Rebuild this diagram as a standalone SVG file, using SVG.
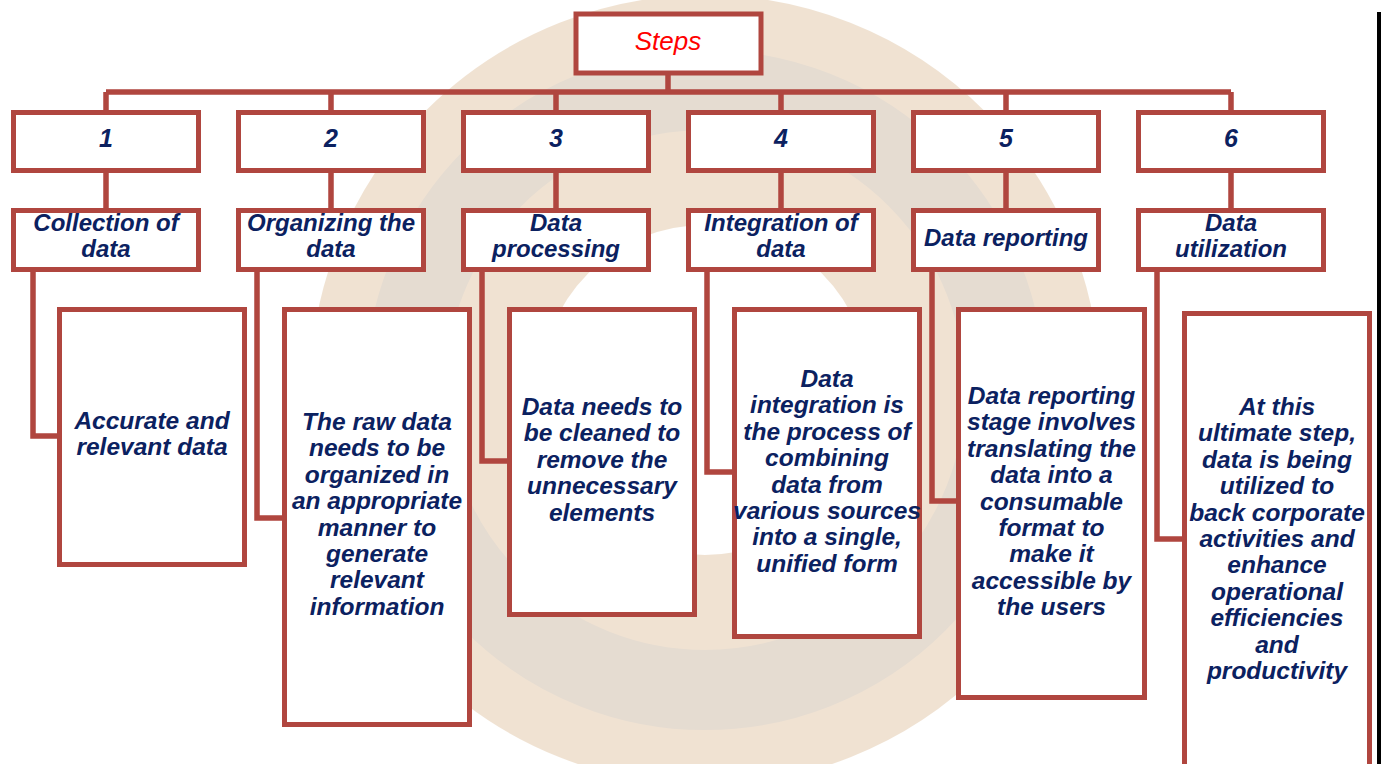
<svg xmlns="http://www.w3.org/2000/svg" width="1381" height="764" viewBox="0 0 1381 764">
<style>
.box{fill:#fff;stroke:#b0463f;stroke-width:5}
.con{fill:none;stroke:#b0463f;stroke-width:5.5}
.t{font-family:"Liberation Sans",Arial,sans-serif;font-weight:bold;font-style:italic;fill:#0b2160;text-anchor:middle}
.num{font-size:25px}
.lab{font-size:24px}
.d{font-size:24.5px}
.title{font-family:"Liberation Sans",Arial,sans-serif;font-style:italic;font-size:26px;fill:#ff0000;text-anchor:middle}
</style>
<rect width="1381" height="764" fill="#fff"/>
<g id="background" opacity="0.32">
<circle cx="705" cy="390" r="280" fill="none" stroke="#d2a877" stroke-width="230"/>
<circle cx="705" cy="390" r="300" fill="none" stroke="#8f8070" stroke-width="80" opacity="0.5"/>
</g>
<rect x="1377" y="12" width="4" height="752" fill="#000"/>
<g id="connectors">
<path class="con" d="M668 75V92M106 92H1231M106 92V110M331 92V110M556 92V110M781 92V110M1006 92V110M1231 92V110"/>
<path class="con" d="M106 173V208M331 173V208M556 173V208M781 173V208M1006 173V208M1231 173V208"/>
<path class="con" d="M33 272V436H57M257 272V518H282M482 272V461H507M707 272V472H732M932 272V501H956M1157 272V539H1182"/>
</g>
<g id="steps"><rect class="box" x="576" y="14" width="185" height="59"/><text class="title" x="668" y="50">Steps</text></g>
<g id="n1"><rect class="box" x="13.5" y="112.5" width="185" height="58"/><text class="t num" x="106" y="147">1</text></g>
<g id="n2"><rect class="box" x="238.5" y="112.5" width="185" height="58"/><text class="t num" x="331" y="147">2</text></g>
<g id="n3"><rect class="box" x="463.5" y="112.5" width="185" height="58"/><text class="t num" x="556" y="147">3</text></g>
<g id="n4"><rect class="box" x="688.5" y="112.5" width="185" height="58"/><text class="t num" x="781" y="147">4</text></g>
<g id="n5"><rect class="box" x="913.5" y="112.5" width="185" height="58"/><text class="t num" x="1006" y="147">5</text></g>
<g id="n6"><rect class="box" x="1138.5" y="112.5" width="185" height="58"/><text class="t num" x="1231" y="147">6</text></g>
<g id="l1"><rect class="box" x="13.5" y="210.5" width="185" height="59"/><text class="t lab" x="106" y="231">Collection of<tspan x="106" dy="26">data</tspan></text></g>
<g id="l2"><rect class="box" x="238.5" y="210.5" width="185" height="59"/><text class="t lab" x="331" y="231">Organizing the<tspan x="331" dy="26">data</tspan></text></g>
<g id="l3"><rect class="box" x="463.5" y="210.5" width="185" height="59"/><text class="t lab" x="556" y="231">Data<tspan x="556" dy="26">processing</tspan></text></g>
<g id="l4"><rect class="box" x="688.5" y="210.5" width="185" height="59"/><text class="t lab" x="781" y="231">Integration of<tspan x="781" dy="26">data</tspan></text></g>
<g id="l5"><rect class="box" x="913.5" y="210.5" width="185" height="59"/><text class="t lab" x="1006" y="246">Data reporting</text></g>
<g id="l6"><rect class="box" x="1138.5" y="210.5" width="185" height="59"/><text class="t lab" x="1231" y="231">Data<tspan x="1231" dy="26">utilization</tspan></text></g>
<g id="d1"><rect class="box" x="59.5" y="309.5" width="185" height="255"/><text class="t d" x="152" y="429">Accurate and<tspan x="152" dy="26.4">relevant data</tspan></text></g>
<g id="d2"><rect class="box" x="284.5" y="309.5" width="185" height="415"/><text class="t d" x="377" y="430">The raw data<tspan x="377" dy="26.4">needs to be</tspan><tspan x="377" dy="26.4">organized in</tspan><tspan x="377" dy="26.4">an appropriate</tspan><tspan x="377" dy="26.4">manner to</tspan><tspan x="377" dy="26.4">generate</tspan><tspan x="377" dy="26.4">relevant</tspan><tspan x="377" dy="26.4">information</tspan></text></g>
<g id="d3"><rect class="box" x="509.5" y="309.5" width="185" height="305"/><text class="t d" x="602" y="415">Data needs to<tspan x="602" dy="26.4">be cleaned to</tspan><tspan x="602" dy="26.4">remove the</tspan><tspan x="602" dy="26.4">unnecessary</tspan><tspan x="602" dy="26.4">elements</tspan></text></g>
<g id="d4"><rect class="box" x="734.5" y="309.5" width="185" height="327"/><text class="t d" x="827" y="387">Data<tspan x="827" dy="26.4">integration is</tspan><tspan x="827" dy="26.4">the process of</tspan><tspan x="827" dy="26.4">combining</tspan><tspan x="827" dy="26.4">data from</tspan><tspan x="827" dy="26.4">various sources</tspan><tspan x="827" dy="26.4">into a single,</tspan><tspan x="827" dy="26.4">unified form</tspan></text></g>
<g id="d5"><rect class="box" x="958.5" y="309.5" width="186" height="388"/><text class="t d" x="1051.5" y="404">Data reporting<tspan x="1051.5" dy="26.4">stage involves</tspan><tspan x="1051.5" dy="26.4">translating the</tspan><tspan x="1051.5" dy="26.4">data into a</tspan><tspan x="1051.5" dy="26.4">consumable</tspan><tspan x="1051.5" dy="26.4">format to</tspan><tspan x="1051.5" dy="26.4">make it</tspan><tspan x="1051.5" dy="26.4">accessible by</tspan><tspan x="1051.5" dy="26.4">the users</tspan></text></g>
<g id="d6"><rect class="box" x="1184.5" y="313.5" width="185" height="500"/><text class="t d" x="1277" y="415">At this<tspan x="1277" dy="26.4">ultimate step,</tspan><tspan x="1277" dy="26.4">data is being</tspan><tspan x="1277" dy="26.4">utilized to</tspan><tspan x="1277" dy="26.4">back corporate</tspan><tspan x="1277" dy="26.4">activities and</tspan><tspan x="1277" dy="26.4">enhance</tspan><tspan x="1277" dy="26.4">operational</tspan><tspan x="1277" dy="26.4">efficiencies</tspan><tspan x="1277" dy="26.4">and</tspan><tspan x="1277" dy="26.4">productivity</tspan></text></g>
</svg>
